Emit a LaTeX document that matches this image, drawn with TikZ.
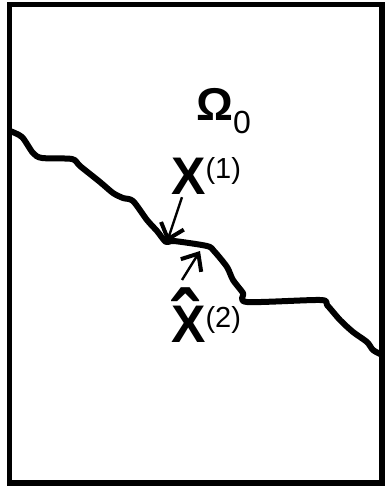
\documentclass[tikz,border=0pt]{standalone}
\usepackage{fontspec}
\setmainfont{Liberation Sans}
\usetikzlibrary{arrows.meta}
\tikzset{>={Straight Barb[length=14pt,width=24pt,line width=4pt]},
 every node/.style={inner sep=0pt,anchor=base west}}
\newcommand{\supsz}{\fontsize{29}{29}\selectfont\mdseries}
\newcommand{\tallX}{\scalebox{1.12}[1.15]{X}}
\begin{document}
\begin{tikzpicture}[x=1pt,y=-1pt,
 crack/.style={line width=6pt,line join=round,line cap=round},
 ptr/.style={->,line width=2.4pt},
 big/.style={font=\fontsize{46}{46}\selectfont\bfseries}]
\useasboundingbox (0,0) rectangle (384,487);
\draw[line width=5.5pt] (9.5,4.5) rectangle (382,483);
% the crack between the two parts
\draw[crack] plot[smooth,tension=.45] coordinates {(10,131) (22,137) (33,153)
 (42,158) (72,159) (80,166) (100,182) (113,193) (123,198) (133,201) (147,220)
 (157,231) (166,242) (174,241) (207,246) (214,251) (227,267) (233,280) (243,293)
 (247,302) (320,300) (327,305) (340,320) (353,332) (367,342) (373,350) (382,355)};
\coordinate (c1) at (167,242);
\coordinate (c2) at (200,251);
\node[big,font=\fontsize{46}{46}\selectfont\bfseries] (om) at (196,120)
 {Ω{\fontsize{32}{32}\selectfont\mdseries\raisebox{-13pt}{0}}};
\node[big] (xone) at (171,194) {\tallX{\supsz\raisebox{16pt}{(1)}}};
\node[big] (xtwo) at (171,342) {\rlap{\raisebox{-7pt}{\scalebox{1.7}[1.8]{ˆ}}}\tallX{\supsz\raisebox{15pt}{(2)}}};
\draw[ptr] ([shift={(11,3)}]xone.south west) -- (c1);
\draw[ptr] ([shift={(11,-7)}]xtwo.north west) -- (c2);
\end{tikzpicture}
\end{document}
